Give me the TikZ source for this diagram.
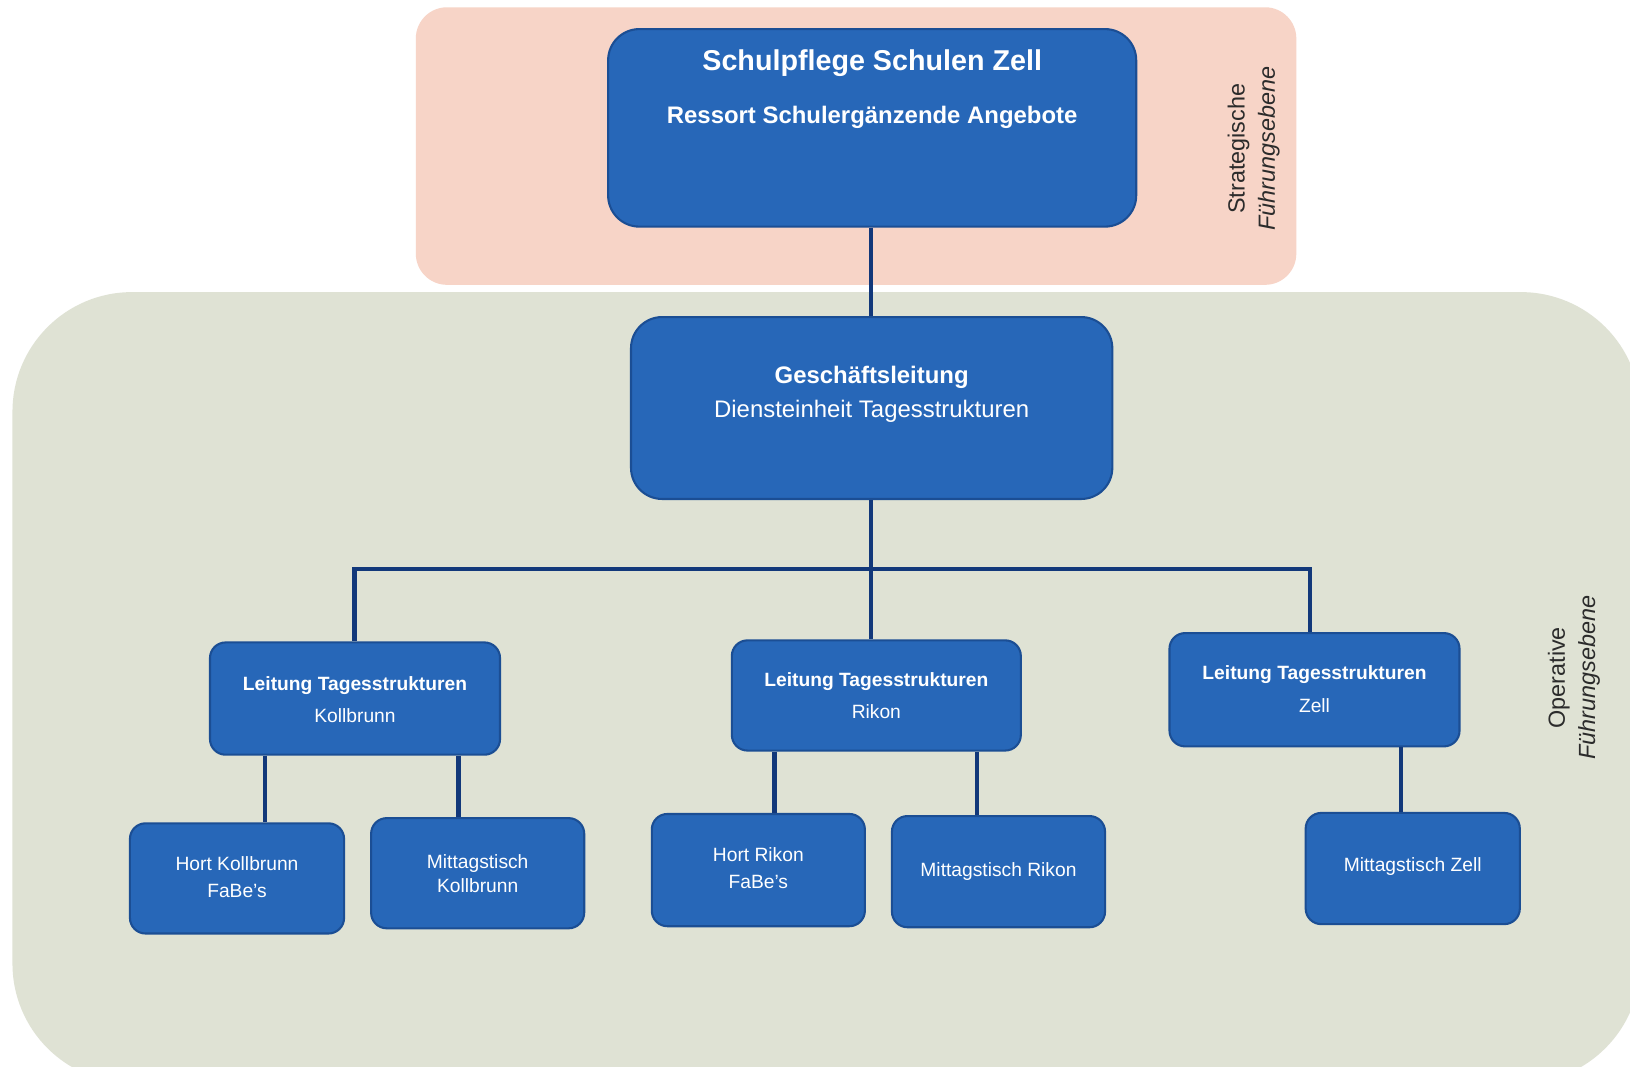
\documentclass[tikz,border=0pt]{standalone}
\usepackage{fontspec}
\setmainfont{Liberation Sans}
\usetikzlibrary{calc}
\definecolor{pinkbg}{HTML}{F7D4C7}
\definecolor{greenbg}{HTML}{DFE2D4}
\definecolor{boxfill}{HTML}{2767B8}
\definecolor{boxline}{HTML}{1B4E94}
\definecolor{connline}{HTML}{12387A}
\definecolor{sidetext}{HTML}{2B2B2B}
\tikzset{
  orgbox/.style={draw=boxline, fill=boxfill, line width=1pt, rounded corners=7.5pt, inner sep=0pt},
  bigbox/.style={orgbox, rounded corners=15pt},
  wtxt/.style={text=white, align=center, inner sep=0pt},
  conn/.style={draw=connline, line width=2pt},
  sidelabel/.style={text=sidetext, align=center, rotate=90, inner sep=0pt,
    font=\fontsize{11.25pt}{14.5pt}\selectfont}
}
\begin{document}
\begin{tikzpicture}[x=0.5pt, y=-0.5pt]
\path[use as bounding box] (0,0) rectangle (1568,1025.5);
\fill[white] (0,0) rectangle (1568,1025.5);
\begin{scope}
\clip (0,0) rectangle (1568,1025.5);
\fill[pinkbg, rounded corners=15pt] (400,7) rectangle (1247,274);
\fill[greenbg, rounded corners=57.5pt] (12,281) rectangle (1578,1042);
\end{scope}

% level 1
\node[bigbox, minimum width=254pt, minimum height=95pt] (top) at (839,123) {};
\node[wtxt, font=\fontsize{13.8pt}{16pt}\selectfont\bfseries] (toptitle) at (839,61) {Schulpflege Schulen Zell};
\node[wtxt, font=\fontsize{11.5pt}{14pt}\selectfont\bfseries] (topsub) at (839,113) {Ressort Schulergänzende Angebote};

% level 2
\node[bigbox, minimum width=231.5pt, minimum height=87.5pt] (gl) at (838.5,392.5) {};
\node[wtxt, font=\fontsize{11.5pt}{16.5pt}\selectfont] (gltxt) at (838.5,379.5) {\textbf{Geschäftsleitung}\\Diensteinheit Tagesstrukturen};

% level 3
\node[orgbox, minimum width=139.5pt, minimum height=54pt] (l1) at (341.5,672) {};
\node[wtxt, font=\fontsize{9.25pt}{15.5pt}\selectfont] (l1t) at (341.5,673) {\textbf{Leitung Tagesstrukturen}\\Kollbrunn};
\node[orgbox, minimum width=139pt, minimum height=53pt] (l2) at (843,669) {};
\node[wtxt, font=\fontsize{9.25pt}{15.5pt}\selectfont] (l2t) at (843,669.5) {\textbf{Leitung Tagesstrukturen}\\Rikon};
\node[orgbox, minimum width=139.5pt, minimum height=54.5pt] (l3) at (1264.5,663.5) {};
\node[wtxt, font=\fontsize{9.25pt}{15.5pt}\selectfont] (l3t) at (1264.5,663) {\textbf{Leitung Tagesstrukturen}\\Zell};

% level 4
\node[orgbox, minimum width=103pt, minimum height=53pt] (b1) at (228,845) {};
\node[wtxt, font=\fontsize{9.25pt}{13pt}\selectfont] (b1t) at (228,843.5) {Hort Kollbrunn\\FaBe's};
\node[orgbox, minimum width=102.5pt, minimum height=53pt] (b2) at (459.5,840) {};
\node[wtxt, font=\fontsize{9.25pt}{11.5pt}\selectfont] (b2t) at (459.5,840) {Mittagstisch\\Kollbrunn};
\node[orgbox, minimum width=102.5pt, minimum height=54pt] (b3) at (729.5,837) {};
\node[wtxt, font=\fontsize{9.25pt}{13pt}\selectfont] (b3t) at (729.5,835.5) {Hort Rikon\\FaBe's};
\node[orgbox, minimum width=102.5pt, minimum height=53.5pt] (b4) at (960.5,838.5) {};
\node[wtxt, font=\fontsize{9.25pt}{11.5pt}\selectfont] (b4t) at (960.5,838) {Mittagstisch Rikon};
\node[orgbox, minimum width=103pt, minimum height=53.5pt] (b5) at (1359,835.5) {};
\node[wtxt, font=\fontsize{9.25pt}{11.5pt}\selectfont] (b5t) at (1359,834) {Mittagstisch Zell};

% side labels
\node[sidelabel] (strat) at (1206,143) {Strategische\\\itshape Führungsebene};
\node[sidelabel] (oper) at (1514,652) {Operative\\\itshape Führungsebene};

% connectors
\coordinate (busL) at (341,547);
\coordinate (busM) at (838,547);
\coordinate (busR) at (1260,547);
\coordinate (c1) at (255,0);
\coordinate (c2) at (441,0);
\coordinate (c3) at (745,0);
\coordinate (c4) at (940,0);
\coordinate (c5) at (1348,0);
\draw[conn] (top.south -| busM) -- (gl.north -| busM);
\draw[conn] (gl.south -| busM) -- (l2.north -| busM);
\draw[conn] (l1.north -| busL) -- (busL) -- (busR) -- (l3.north -| busR);
\draw[conn] (l1.south -| c1) -- (b1.north -| c1);
\draw[conn] (l1.south -| c2) -- (b2.north -| c2);
\draw[conn] (l2.south -| c3) -- (b3.north -| c3);
\draw[conn] (l2.south -| c4) -- (b4.north -| c4);
\draw[conn] (l3.south -| c5) -- (b5.north -| c5);
\end{tikzpicture}
\end{document}
